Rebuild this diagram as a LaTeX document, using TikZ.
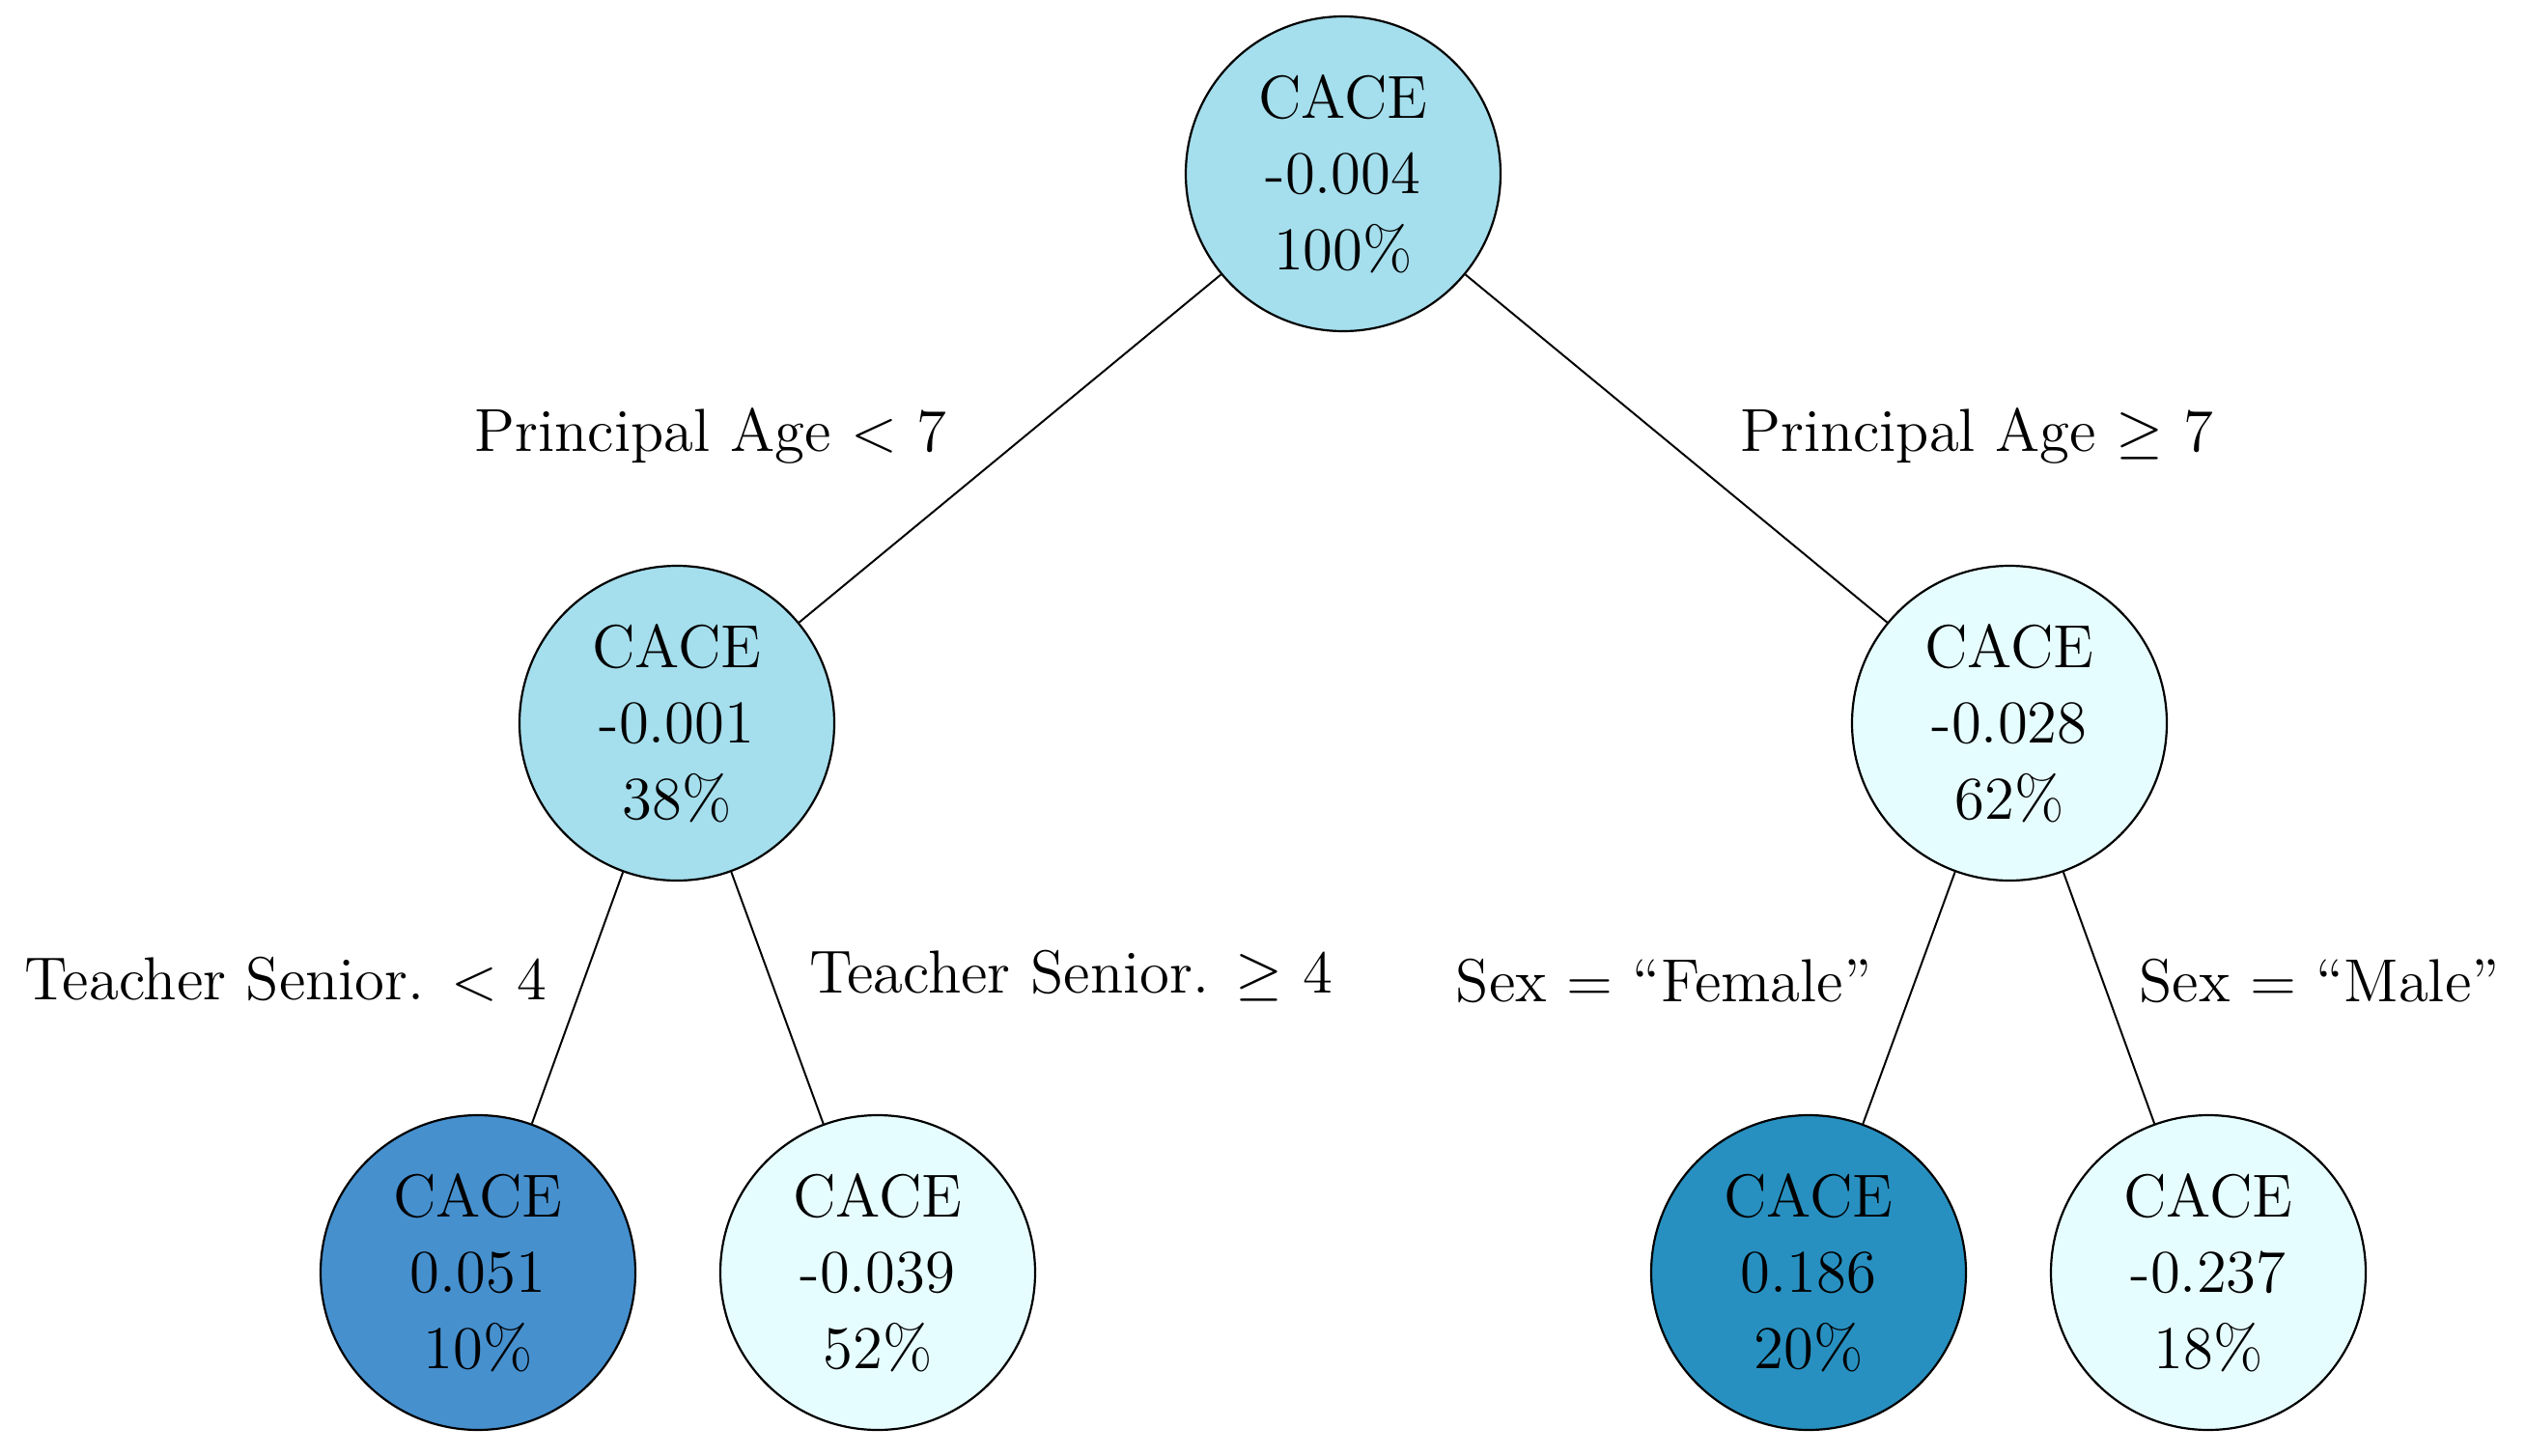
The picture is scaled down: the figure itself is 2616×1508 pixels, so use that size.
\documentclass[tikz,border=0pt]{standalone}
\usetikzlibrary{positioning}
\definecolor{cmid}{RGB}{165,222,236}
\definecolor{clight}{RGB}{230,253,255}
\definecolor{cblue}{RGB}{70,144,206}
\definecolor{cteal}{RGB}{40,144,192}
\begin{document}
\begin{tikzpicture}[x=0.2288pt,y=-0.2288pt,
  tnode/.style={circle,draw=black,line width=0.5pt,minimum size=326*0.2288pt,inner sep=0pt,align=center,font=\Large},
  edge/.style={draw=black,line width=0.45pt},
  lbl/.style={anchor=base,inner sep=0pt,font=\Large}]
\useasboundingbox (0,0) rectangle (2616,1508);
\node[tnode,fill=cmid] (root) at (1391,180) {CACE\\-0.004\\100\%};
\node[tnode,fill=cmid] (l) at (701,749) {CACE\\-0.001\\38\%};
\node[tnode,fill=clight] (r) at (2081,749) {CACE\\-0.028\\62\%};
\node[tnode,fill=cblue] (ll) at (495,1318) {CACE\\0.051\\10\%};
\node[tnode,fill=clight] (lr) at (909,1318) {CACE\\-0.039\\52\%};
\node[tnode,fill=cteal] (rl) at (1873,1318) {CACE\\0.186\\20\%};
\node[tnode,fill=clight] (rr) at (2287,1318) {CACE\\-0.237\\18\%};
\draw[edge] (root) -- (l);
\draw[edge] (root) -- (r);
\draw[edge] (l) -- (ll);
\draw[edge] (l) -- (lr);
\draw[edge] (r) -- (rl);
\draw[edge] (r) -- (rr);
\node[lbl] (a1) at (736,467) {Principal Age $<$ 7};
\node[lbl] (a2) at (2047,467) {Principal Age $\geq$ 7};
\node[lbl] (b1) at (296,1035) {Teacher Senior. $<$ 4};
\node[lbl] (b2) at (1109,1028) {Teacher Senior. $\geq$ 4};
\node[lbl] (c1) at (1723,1037) {Sex = ``Female''};
\node[lbl] (c2) at (2402,1037) {Sex = ``Male''};
\end{tikzpicture}
\end{document}
